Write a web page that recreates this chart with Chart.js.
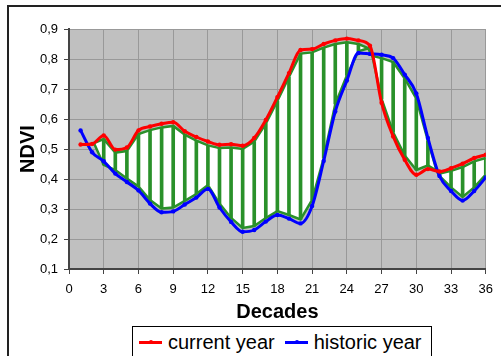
<!DOCTYPE html>
<html>
<head>
<meta charset="utf-8">
<script src="https://cdn.jsdelivr.net/npm/chart.js@4.4.2/dist/chart.umd.min.js"></script>
<style>
  html, body { margin: 0; padding: 0; background: #fff; overflow: hidden; }
  #frame { position: absolute; left: 7px; top: 5px; width: 600px; height: 600px; border: 2px solid #222; }
  #ndviChart { position: absolute; left: 0; top: 0; }
  #legend {
    position: absolute; left: 132px; top: 326px; width: 300px; height: 40px;
    box-sizing: border-box; border: 1px solid #000; background: #fff;
    display: flex; align-items: flex-start; padding: 4px 0 0 6px;
    font: 20px Arial, 'Liberation Sans', sans-serif; color: #000;
  }
  #legend .item { display: flex; align-items: center; height: 23px; line-height: 23px; white-space: nowrap; }
  #legend .item + .item { margin-left: 10px; }
  #legend .sample { position: relative; width: 23px; height: 2.5px; margin-right: 6px; }
  #legend .sample i { position: absolute; left: 10px; top: -1px; width: 4px; height: 4px; border-radius: 50%; background: inherit; }
</style>
</head>
<body>
<div id="frame"></div>
<canvas id="ndviChart" width="501" height="356"></canvas>
<div id="legend"></div>
<script>
// decades on the x axis
const decades = [1, 2, 3, 4, 5, 6, 7, 8, 9, 10, 11, 12, 13, 14, 15, 16, 17, 18,
  19, 20, 21, 22, 23, 24, 25, 26, 27, 28, 29, 30, 31, 32, 33, 34, 35, 36];

const currentYear = [0.515, 0.517, 0.545, 0.498, 0.505, 0.562, 0.575, 0.584, 0.589, 0.559,
  0.540, 0.525, 0.514, 0.516, 0.511, 0.537, 0.597, 0.673, 0.753, 0.830,
  0.833, 0.850, 0.862, 0.868, 0.862, 0.844, 0.654, 0.542, 0.464, 0.414,
  0.433, 0.425, 0.436, 0.451, 0.470, 0.481];

const historicYear = [0.562, 0.489, 0.459, 0.418, 0.390, 0.362, 0.318, 0.289, 0.292, 0.315,
  0.338, 0.367, 0.305, 0.257, 0.224, 0.230, 0.258, 0.280, 0.268, 0.252,
  0.310, 0.460, 0.625, 0.728, 0.820, 0.817, 0.814, 0.803, 0.748, 0.685,
  0.537, 0.410, 0.360, 0.328, 0.360, 0.405];

// green difference band (its edges sit just inside the two curves)
const bandX = [2.15, 3, 4, 5, 6, 7, 8, 9, 10, 11, 12, 13, 14, 15, 16, 17, 18, 19, 20,
  21, 22, 23, 24, 25, 25.85, 26.2, 27, 28, 29, 30, 31, 31.75, 32, 33, 34, 35, 36];
const bandTop = [0.520, 0.533, 0.488, 0.493, 0.550, 0.563, 0.572, 0.577, 0.548, 0.528,
  0.512, 0.503, 0.505, 0.500, 0.525, 0.585, 0.660, 0.740, 0.818, 0.822,
  0.838, 0.850, 0.856, 0.850, 0.836, 0.810, 0.803, 0.790, 0.735, 0.668,
  0.528, 0.428, 0.418, 0.427, 0.440, 0.459, 0.470];
const bandBottom = [0.520, 0.447, 0.430, 0.402, 0.375, 0.330, 0.302, 0.305, 0.327, 0.350,
  0.380, 0.318, 0.270, 0.237, 0.243, 0.270, 0.293, 0.280, 0.265, 0.330,
  0.470, 0.650, 0.745, 0.826, 0.836, 0.810, 0.667, 0.556, 0.478, 0.430,
  0.445, 0.428, 0.410, 0.372, 0.340, 0.372, 0.415];

const xStep = 3;
const yMin = 0.1;
const yMax = 0.9;

const GREEN = '#2a912a';
const FONT = "Arial, 'Liberation Sans', sans-serif";
Chart.defaults.font.family = FONT;
Chart.defaults.color = '#000';

const toPoints = (xs, ys) => xs.map((x, i) => ({ x: x, y: ys[i] }));
const hatch = bandX
  .map((x, i) => ({ x: x, y: [bandBottom[i], bandTop[i]] }))
  .filter(p => Number.isInteger(p.x));

const plotBackground = {
  id: 'plotBackground',
  beforeDraw(chart) {
    const { ctx, chartArea: { left, top, width, height } } = chart;
    ctx.save();
    ctx.fillStyle = '#c0c0c0';
    ctx.fillRect(left, top, width, height);
    ctx.restore();
  }
};

// white inside of the band, between the two band edge lines
const bandFill = {
  id: 'bandFill',
  beforeDatasetsDraw(chart) {
    const { ctx, scales: { x, y } } = chart;
    ctx.save();
    ctx.beginPath();
    bandX.forEach((v, i) => {
      const px = x.getPixelForValue(v);
      const py = y.getPixelForValue(bandTop[i]);
      if (i === 0) ctx.moveTo(px, py); else ctx.lineTo(px, py);
    });
    for (let i = bandX.length - 1; i >= 0; i--) {
      ctx.lineTo(x.getPixelForValue(bandX[i]), y.getPixelForValue(bandBottom[i]));
    }
    ctx.closePath();
    ctx.fillStyle = '#ffffff';
    ctx.fill();
    ctx.restore();
  }
};

const htmlLegend = {
  id: 'htmlLegend',
  afterUpdate(chart) {
    const box = document.getElementById('legend');
    box.replaceChildren();
    chart.data.datasets.filter(ds => ds.showInLegend).forEach(ds => {
      const item = document.createElement('div');
      item.className = 'item';
      const sample = document.createElement('span');
      sample.className = 'sample';
      sample.style.background = ds.borderColor;
      sample.appendChild(document.createElement('i'));
      const text = document.createElement('span');
      text.textContent = ds.label;
      item.appendChild(sample);
      item.appendChild(text);
      box.appendChild(item);
    });
  }
};

const lineSeries = (label, values, color, order) => ({
  type: 'line',
  label: label,
  showInLegend: true,
  data: toPoints(decades, values),
  borderColor: color,
  backgroundColor: color,
  borderWidth: 3,
  pointRadius: 2.2,
  pointBorderWidth: 0,
  pointBackgroundColor: color,
  cubicInterpolationMode: 'monotone',
  fill: false,
  order: order
});

new Chart(document.getElementById('ndviChart'), {
  type: 'line',
  data: {
    datasets: [
      lineSeries('current year', currentYear, '#ff0000', 0),
      lineSeries('historic year', historicYear, '#0000ff', 1),
      {
        type: 'bar',
        label: 'hatch',
        data: hatch,
        backgroundColor: GREEN,
        borderWidth: 0,
        barThickness: 3,
        order: 2
      },
      {
        type: 'line',
        label: 'band top',
        data: toPoints(bandX, bandTop),
        borderColor: GREEN,
        borderWidth: 2.5,
        pointRadius: 0,
        tension: 0,
        fill: false,
        order: 4
      },
      {
        type: 'line',
        label: 'band bottom',
        data: toPoints(bandX, bandBottom),
        borderColor: GREEN,
        borderWidth: 2.5,
        pointRadius: 0,
        tension: 0,
        fill: false,
        order: 3
      }
    ]
  },
  options: {
    responsive: false,
    animation: false,
    events: [],
    layout: { padding: { top: 29, right: 11, bottom: 27, left: 0 } },
    plugins: {
      legend: { display: false },
      tooltip: { enabled: false }
    },
    scales: {
      x: {
        type: 'linear',
        min: 0,
        max: 36,
        offset: false,
        ticks: { stepSize: xStep, font: { size: 13 }, color: '#000', padding: 8, maxRotation: 0 },
        grid: { color: '#999', lineWidth: 1, tickColor: '#444', tickLength: 5, offset: false },
        border: { color: '#444', width: 2 },
        title: {
          display: true,
          text: 'Decades',
          font: { size: 20, weight: 'bold' },
          color: '#000',
          padding: { top: 0, bottom: 5 }
        },
        afterFit(scale) { scale.height = 60; }
      },
      y: {
        min: yMin,
        max: yMax,
        ticks: {
          stepSize: 0.1,
          font: { size: 13 },
          color: '#000',
          padding: 6,
          callback: value => value.toFixed(1).replace('.', ',')
        },
        grid: { color: '#999', lineWidth: 1, tickColor: '#444', tickLength: 5 },
        border: { color: '#444', width: 2 },
        title: {
          display: true,
          text: 'NDVI',
          font: { size: 20, weight: 'bold' },
          color: '#000',
          padding: { top: 16, bottom: 0 }
        },
        afterFit(scale) { scale.width = 69; }
      }
    }
  },
  plugins: [plotBackground, bandFill, htmlLegend]
});
</script>
</body>
</html>
